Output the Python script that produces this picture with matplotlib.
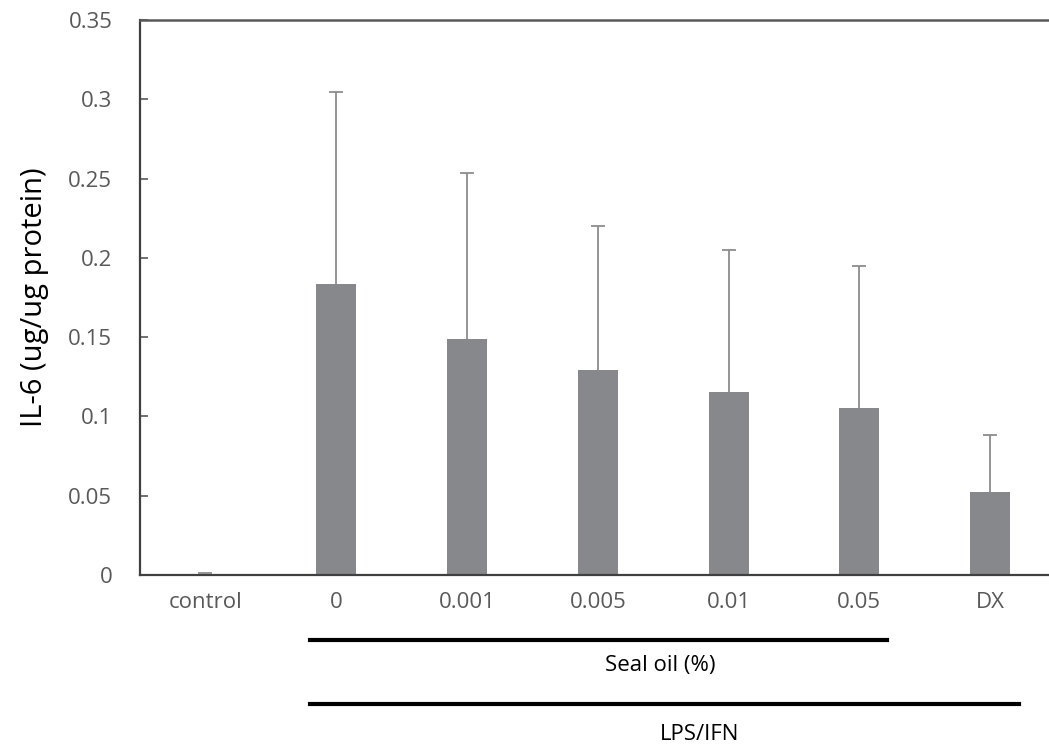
import numpy as np
import matplotlib
matplotlib.use('Agg')
import matplotlib.pyplot as plt
from matplotlib.transforms import blended_transform_factory

plt.rcParams['font.family'] = ['Open Sans', 'DejaVu Sans']

# data
groups = ['control', '0', '0.001', '0.005', '0.01', '0.05', 'DX']
il6 = [0.0008, 0.1835, 0.149, 0.129, 0.1154, 0.1053, 0.0523]
il6_sd = [0.0005, 0.121, 0.1045, 0.091, 0.0896, 0.0895, 0.036]

fig = plt.figure(figsize=(10.49, 7.49), dpi=100)
ax = fig.add_axes([0.1335, 0.2323, 0.8665, 0.741])

x = np.arange(len(groups))
ax.bar(x, il6, width=0.305, color='#87888b', zorder=2)
eb = ax.errorbar(x, il6, yerr=[np.zeros(len(il6)), il6_sd], fmt='none',
                 ecolor='#8c8c8c', elinewidth=1.3, capsize=5, capthick=1.3, zorder=3)
eb[1][0].set_visible(False)  # only the upper cap

ax.set_xlim(-0.5, 6.45)
ax.set_ylim(0, 0.35)
ax.set_yticks([0, 0.05, 0.1, 0.15, 0.2, 0.25, 0.3, 0.35])
ax.set_yticklabels(['0', '0.05', '0.1', '0.15', '0.2', '0.25', '0.3', '0.35'])
ax.set_xticks(x)
ax.set_xticklabels(groups)
ax.tick_params(axis='y', direction='in', length=6, width=1.2, color='#595959',
               labelsize=16, labelcolor='#595959', pad=20)
ax.tick_params(axis='x', length=0, labelsize=16, labelcolor='#595959', pad=12)

ax.spines['right'].set_visible(False)
ax.spines['left'].set_color('#404040')
ax.spines['left'].set_linewidth(1.6)
ax.spines['bottom'].set_color('#404040')
ax.spines['bottom'].set_linewidth(1.6)
ax.spines['top'].set_color('#595959')
ax.spines['top'].set_linewidth(1.8)

ax.set_ylabel('IL-6 (ug/ug protein)', fontsize=21, color='black', labelpad=14)

# group brackets under the axis
tr = blended_transform_factory(ax.transData, fig.transFigure)
ax.plot([0.8, 5.21], [0.1455, 0.1455], color='black', lw=3, transform=tr, clip_on=False)
ax.text(3.48, 0.111, 'Seal oil (%)', transform=tr, ha='center', va='center', fontsize=16)
ax.plot([0.8, 6.22], [0.060, 0.060], color='black', lw=3, transform=tr, clip_on=False)
ax.text(3.78, 0.019, 'LPS/IFN', transform=tr, ha='center', va='center', fontsize=16)

fig.savefig('out.png', dpi=100)
